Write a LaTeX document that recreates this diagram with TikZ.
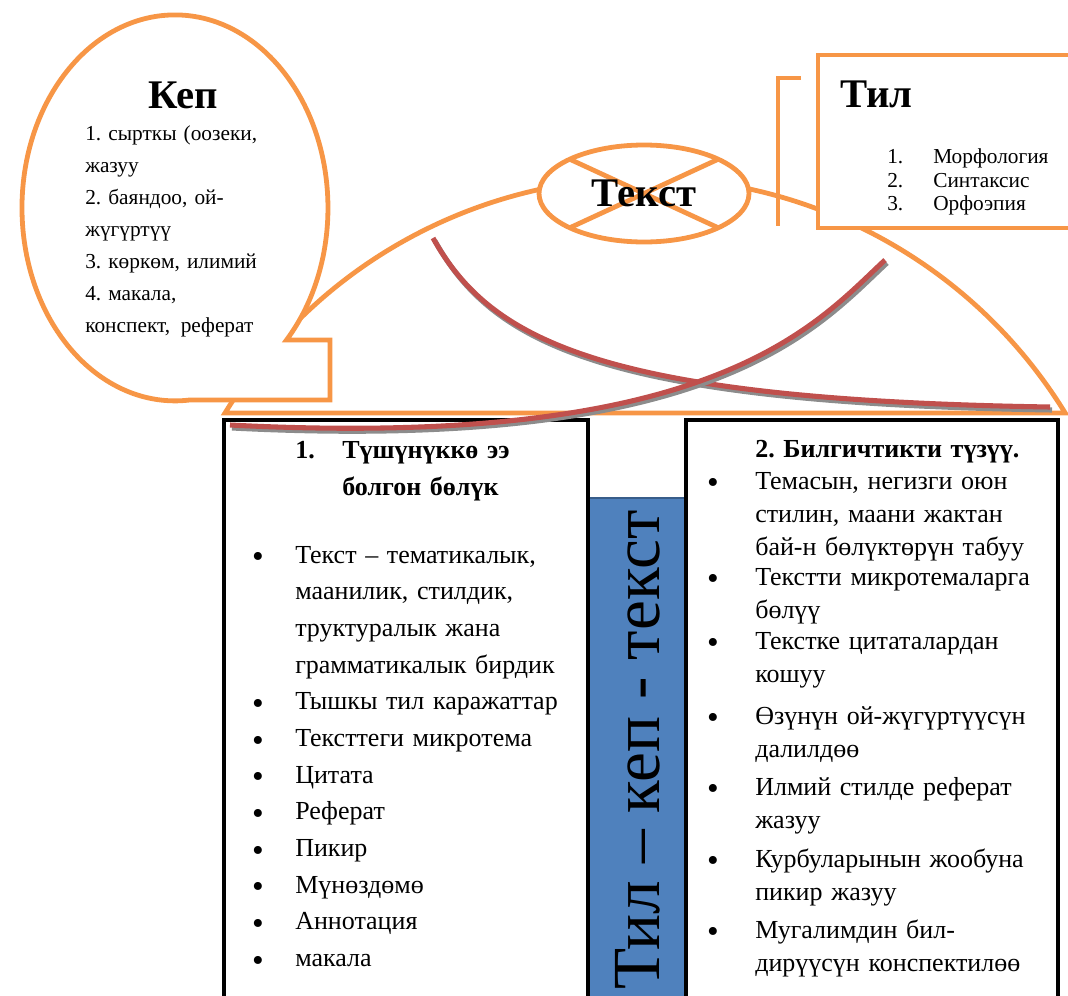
\documentclass[tikz,border=0pt]{standalone}
\usepackage{fontspec}
\setmainfont{Liberation Serif}
\usepackage{tikz}
\usetikzlibrary{shapes.geometric, positioning, calc}
\definecolor{kporange}{RGB}{247,150,70}
\definecolor{kpred}{RGB}{192,80,77}
\definecolor{kpblue}{RGB}{79,129,189}
\definecolor{kpdarkblue}{RGB}{56,93,138}
\frenchspacing

\begin{document}
\begin{tikzpicture}[x=0.75pt,y=-0.75pt,
    orangeline/.style={draw=kporange,line width=3.6pt},
    blackbox/.style={draw=black,line width=3pt,fill=white},
    redcurve/.style={draw=kpred,line width=3.8pt},
    curveshadow/.style={draw=black!45,line width=3.8pt,shift={(2,3)}},
    bigtitle/.style={font=\fontsize{30.5}{36}\selectfont\bfseries,inner sep=0pt},
    smalltext/.style={font=\fontsize{16}{24}\selectfont,inner sep=0pt,anchor=base west,text width=7cm,align=left},
    listtext/.style={font=\fontsize{16}{17.6}\selectfont,inner sep=0pt,anchor=base west},
    bodytext/.style={font=\fontsize{19.5}{27.5}\selectfont,inner sep=0pt,anchor=base west,text width=10cm,align=left},
    righttext/.style={bodytext,font=\fontsize{19.5}{25}\selectfont},
    boldtext/.style={bodytext,font=\fontsize{19.5}{27.75}\selectfont\bfseries},
    bulletmark/.style={font=\fontsize{25}{26}\selectfont,inner sep=0pt,anchor=base,yshift=-3.5pt}]
    \useasboundingbox (0,0) rectangle (1068,996);
    \clip (0,0) rectangle (1068,996);

    % Kумбөз
    \draw[orangeline] (225,413) arc[start angle=-148.45, end angle=-31.55, radius=493] -- cycle;

    % Кеп
    \draw[orangeline,fill=white] (286.5,340) arc[start angle=43.2, end angle=-275.6, x radius=153, y radius=193] -- (330,400) -- (330,340) -- cycle;
    \node[bigtitle] (keptitle) at (183,95) {Кеп};
    \node[smalltext] (keplist) at (85,140) {1. сырткы (оозеки,\\жазуу\\2. баяндоо, ой-\\жүгүртүү\\3. көркөм, илимий\\4. макала,\\конспект,\enspace реферат};

    % Текст
    \node[ellipse,orangeline,fill=white,minimum width=157.5pt,minimum height=72.75pt,inner sep=0pt,outer sep=0pt] (tekst) at (644,193.5) {};
    \draw[orangeline] (tekst.north west) -- (tekst.south east) (tekst.north east) -- (tekst.south west);
    \node[bigtitle] (tekstlabel) at (tekst.center) {Текст};

    % Тил
    \draw[orangeline] (801,78) -- (778,78) -- (778,226);
    \node[orangeline,fill=white,anchor=north west,minimum width=200pt,minimum height=129.75pt,inner sep=0pt,outer sep=0pt] (tilbox) at (818,55) {};
    \node[bigtitle,anchor=west] (tiltitle) at (840,94) {Тил};
    \foreach \n/\w/\y in {1/Морфология/163, 2/Синтаксис/187, 3/Орфоэпия/210} {
        \node[listtext] (tilnum\n) at (887,\y) {\n.};
        \node[listtext] (tilterm\n) at (933,\y) {\w};
    }

    % Тил – кеп – текст
    \fill[kpblue] (588,498) rectangle (686,1010);
    \draw[kpdarkblue,line width=1.5pt] (588,498) -- (686,498);
    \draw[blackbox] (224,420) rectangle (588,1010);
    \draw[blackbox] (686,420) rectangle (1058,1010);
    \node[rotate=90,font=\fontsize{50.5}{52}\selectfont,inner sep=0pt] (triad) at (638,750) {Тил – кеп - текст};

    % 1-бөлүк
    \node[boldtext] (leftnum) at (295,458) {1.};
    \node[boldtext] (lefthead) at (342,458) {Түшүнүккө ээ\\болгон бөлүк};
    \node[bulletmark] (lb0) at (258,563) {•};
    \node[bodytext] (lt0) at (295,563) {Текст – тематикалык,\\маанилик, стилдик,\\труктуралык жана\\грамматикалык бирдик};
    \foreach \txt [count=\i] in {Тышкы тил каражаттар, Тексттеги микротема, Цитата, Реферат, Пикир, Мүнөздөмө, Аннотация, макала} {
        \node[bulletmark] (lb\i) at (258,{673+36.7*\i}) {•};
        \node[bodytext] (lt\i) at (295,{673+36.7*\i}) {\txt};
    }

    % 2-бөлүк
    \node[boldtext] (righthead) at (755,457) {2. Билгичтикти түзүү.};
    \foreach \y/\txt [count=\i] in {489/{Темасын, негизги оюн\\стилин, маани жактан\\бай-н бөлүктөрүн табуу},
        585/{Текстти микротемаларга\\бөлүү}, 649/{Текстке цитаталардан\\кошуу},
        724/{Өзүнүн ой-жүгүртүүсүн\\далилдөө}, 795/{Илмий стилде реферат\\жазуу},
        867/{Курбуларынын жообуна\\пикир жазуу}, 938/{Мугалимдин бил-\\дирүүсүн конспектилөө}} {
        \node[bulletmark] (rb\i) at (713,\y) {•};
        \node[righttext] (rt\i) at (755,\y) {\txt};
    }

    % Ийри сызыктар
    \draw[curveshadow] (433,238) .. controls (490,340) and (600,400) .. (1050,407);
    \draw[redcurve] (433,238) .. controls (490,340) and (600,400) .. (1050,407);
    \draw[curveshadow] (885,260) .. controls (815,325) and (715,450) .. (230,425);
    \draw[redcurve] (885,260) .. controls (815,325) and (715,450) .. (230,425);
\end{tikzpicture}
\end{document}
